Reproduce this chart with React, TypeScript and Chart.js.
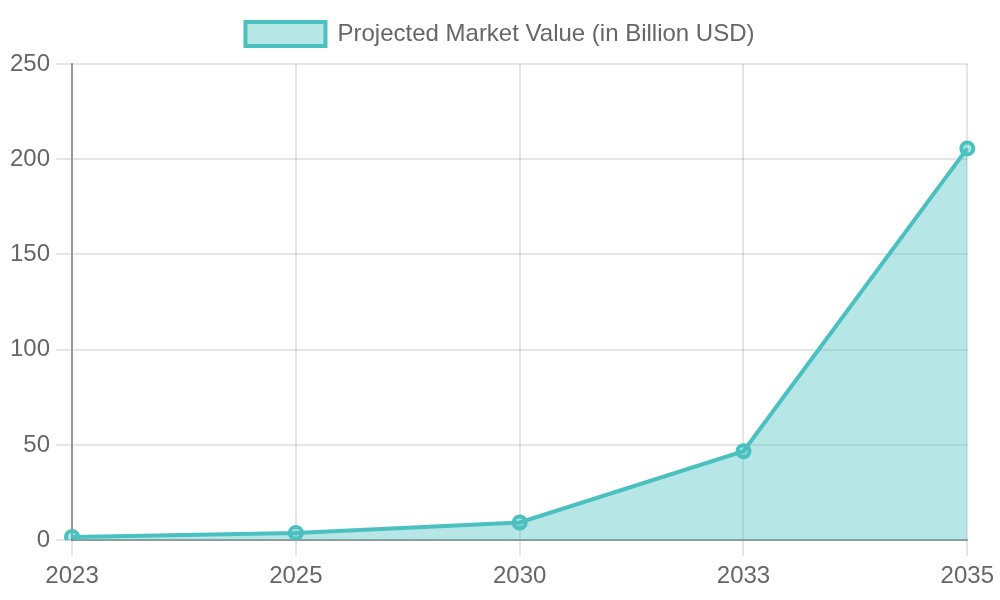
import { useEffect, useRef } from "react";
import { Chart, registerables } from "chart.js";

Chart.register(...registerables);

const years = ["2023", "2025", "2030", "2033", "2035"];
const marketValues = [1.7, 3.8, 9.3, 46.7, 205.7];
const seriesLabel = "Projected Market Value (in Billion USD)";

// adds a bit of room between the legend and the plot area
const legendGap = {
  id: "legendGap",
  beforeInit(chart: any) {
    const legend = chart.legend;
    if (!legend) return;
    const fit = legend.fit;
    legend.fit = function () {
      fit.bind(legend)();
      this.height += 8;
    };
  },
};

export default function App() {
  const chartRef = useRef<HTMLCanvasElement>(null);
  const chartInstance = useRef<Chart | null>(null);

  useEffect(() => {
    document.body.style.margin = "0";
    if (!chartRef.current) return;

    if (chartInstance.current) {
      chartInstance.current.destroy();
    }

    const ctx = chartRef.current.getContext("2d");
    if (!ctx) return;

    Chart.defaults.font.family = "'Liberation Sans', Arial, sans-serif";
    Chart.defaults.color = "#666";

    chartInstance.current = new Chart(ctx, {
      type: "line",
      data: {
        labels: years,
        datasets: [
          {
            label: seriesLabel,
            data: marketValues,
            borderColor: "#4BC0C0",
            backgroundColor: "rgba(75, 192, 192, 0.4)",
            borderWidth: 4,
            fill: true,
            tension: 0,
            pointRadius: 6,
            pointBorderWidth: 4,
            pointBackgroundColor: "rgba(75, 192, 192, 0.4)",
            pointBorderColor: "#4BC0C0",
          },
        ],
      },
      options: {
        responsive: true,
        maintainAspectRatio: false,
        animation: false,
        layout: { padding: { top: 2, left: 4, right: 4, bottom: 3 } },
        plugins: {
          legend: {
            labels: {
              font: { size: 24 },
              boxWidth: 80,
              boxHeight: 24,
              padding: 20,
            },
          },
          tooltip: { enabled: false },
        },
        scales: {
          x: {
            grid: { color: "rgba(0,0,0,0.1)", lineWidth: 2, tickLength: 16 },
            border: { color: "rgba(0,0,0,0.35)", width: 2 },
            ticks: { font: { size: 24 }, padding: 6, maxRotation: 0 },
          },
          y: {
            min: 0,
            max: 250,
            grid: { color: "rgba(0,0,0,0.1)", lineWidth: 2, tickLength: 16 },
            border: { color: "rgba(0,0,0,0.35)", width: 2 },
            ticks: { font: { size: 24 }, padding: 6, stepSize: 50 },
          },
        },
      },
      plugins: [legendGap],
    });

    return () => {
      if (chartInstance.current) {
        chartInstance.current.destroy();
        chartInstance.current = null;
      }
    };
  }, []);

  return (
    <div style={{ position: "relative", width: 1000, height: 600 }}>
      <canvas ref={chartRef} />
    </div>
  );
}
